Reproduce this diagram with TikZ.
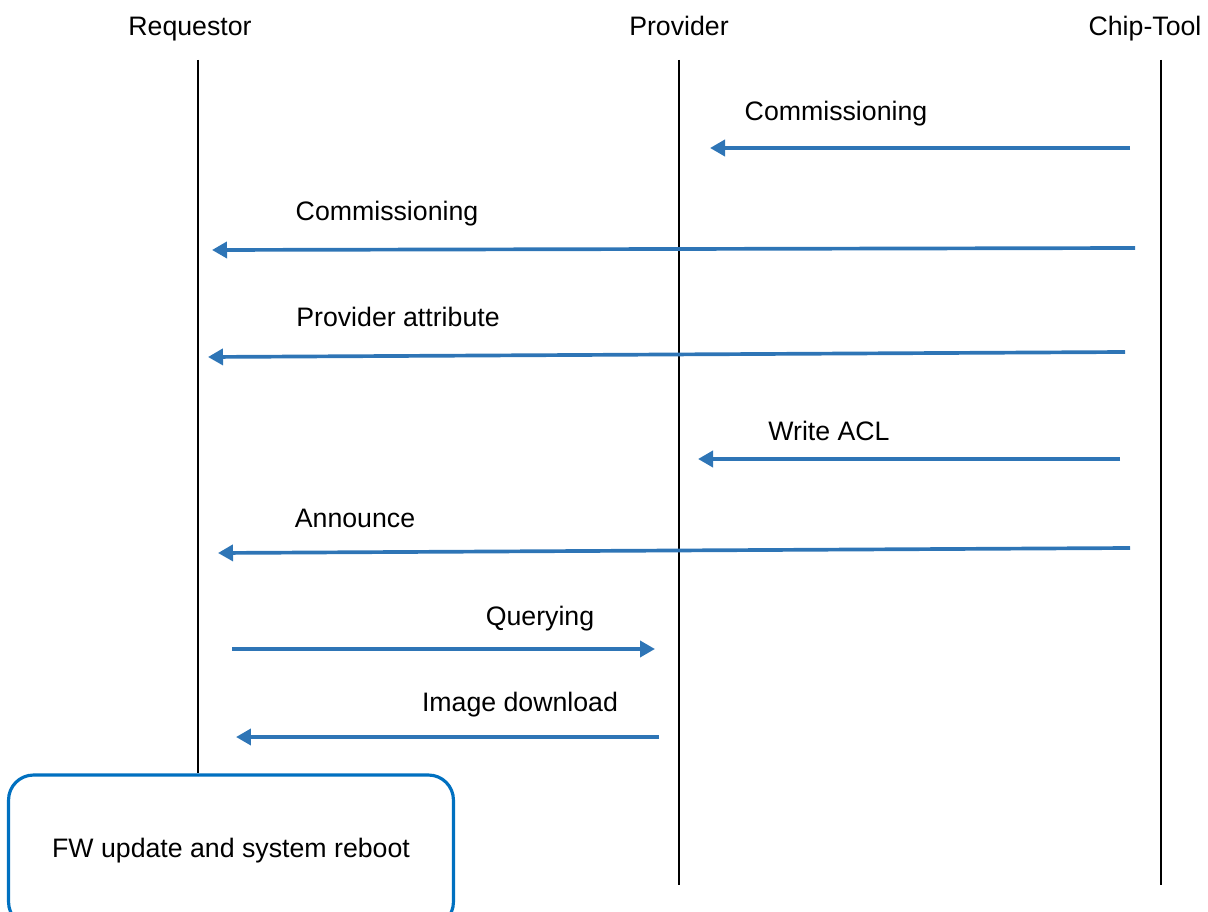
\documentclass[tikz,border=0pt]{standalone}
\usepackage{fontspec}
\setmainfont{Liberation Sans}
\usepackage{xcolor}
\usetikzlibrary{arrows.meta, positioning}
\definecolor{msgblue}{HTML}{2E75B6}
\definecolor{boxblue}{HTML}{0070C0}

\begin{document}
\begin{tikzpicture}[
    x=0.02cm, y=-0.02cm,
    % Titles of the three participants
    head/.style={font=\fontsize{15.2}{18}\selectfont, inner sep=0pt, anchor=base},
    % Vertical life lines
    life/.style={draw=black, line width=1.1pt},
    % Message arrows and their labels
    msg/.style={-{Triangle[length=0.3cm, width=0.32cm]}, draw=msgblue, line width=2.1pt},
    lbl/.style={font=\fontsize{15.2}{18}\selectfont, inner sep=0pt, anchor=base},
    % Final box on the requestor
    action/.style={rectangle, draw=boxblue, line width=1.8pt, rounded corners=0.5cm, fill=white, minimum width=8.9cm, minimum height=3.04cm, font=\fontsize{15.2}{18}\selectfont}
]
\useasboundingbox (0,0) rectangle (1208,912);
\clip (0,0) rectangle (1208,912);

% 1. Participants
\node[head] (req) at (190,36) {Requestor};
\node[head] (prov) at (679,36) {Provider};
\node[head] (tool) at (1145,36) {Chip-Tool};

% 2. Life lines
\coordinate (req_top) at (198,60);
\coordinate (prov_top) at (679,60);
\coordinate (prov_bot) at (679,885);
\coordinate (tool_top) at (1161,60);
\coordinate (tool_bot) at (1161,885);
\node[action] (fw) at (231,851) {FW update and system reboot};
\draw[life] (req_top) -- (fw.north -| req_top);
\draw[life] (prov_top) -- (prov_bot);
\draw[life] (tool_top) -- (tool_bot);

% 3. Commissioning of the provider
\coordinate (m1_a) at (1130,148);
\coordinate (m1_b) at (710,148);
\draw[msg] (m1_a) -- (m1_b);
\node[lbl] (m1_txt) at (836,121) {Commissioning};

% 4. Commissioning of the requestor
\coordinate (m2_a) at (1135,248);
\coordinate (m2_b) at (212,250);
\draw[msg] (m2_a) -- (m2_b);
\node[lbl] (m2_txt) at (387,221) {Commissioning};

% 5. Provider attribute
\coordinate (m3_a) at (1125,352);
\coordinate (m3_b) at (208,357);
\draw[msg] (m3_a) -- (m3_b);
\node[lbl] (m3_txt) at (398,327) {Provider attribute};

% 6. Write ACL
\coordinate (m4_a) at (1120,459);
\coordinate (m4_b) at (698,459);
\draw[msg] (m4_a) -- (m4_b);
\node[lbl] (m4_txt) at (829,440) {Write ACL};

% 7. Announce
\coordinate (m5_a) at (1130,548);
\coordinate (m5_b) at (218,553);
\draw[msg] (m5_a) -- (m5_b);
\node[lbl] (m5_txt) at (355,527) {Announce};

% 8. Querying
\coordinate (m6_a) at (232,649);
\coordinate (m6_b) at (655,649);
\draw[msg] (m6_a) -- (m6_b);
\node[lbl] (m6_txt) at (540,625) {Querying};

% 9. Image download
\coordinate (m7_a) at (659,737);
\coordinate (m7_b) at (236,737);
\draw[msg] (m7_a) -- (m7_b);
\node[lbl] (m7_txt) at (520,711) {Image download};

\end{tikzpicture}
\end{document}
